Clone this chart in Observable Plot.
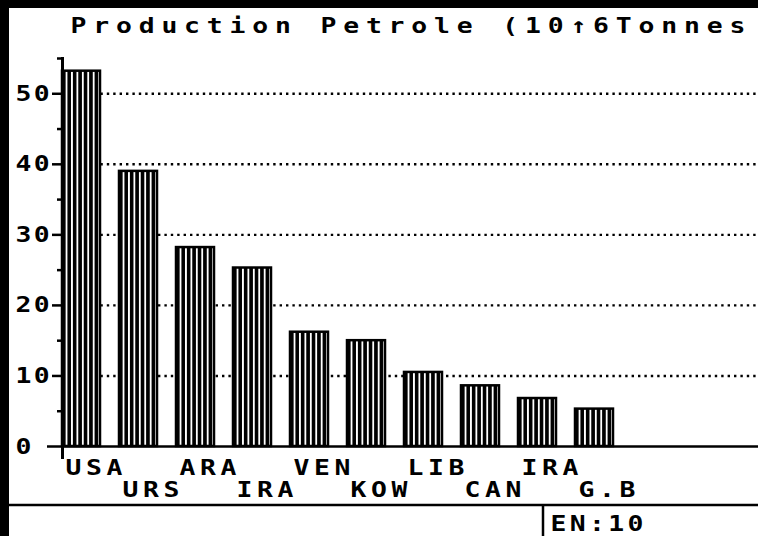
<!DOCTYPE html>
<html><head><meta charset="utf-8">
<script src="https://cdn.jsdelivr.net/npm/d3@7"></script>
<script src="https://cdn.jsdelivr.net/npm/@observablehq/plot@0.6"></script>
<style>
html,body{margin:0;padding:0;background:#fff;}
#chart svg{display:block;}
#chart svg text{letter-spacing:3.9px;}
</style></head><body><div id="chart"></div>
<script>
const countries = ["USA","URS","ARA","IRA","VEN","KOW","LIB","CAN","IRA","G.B"];
const production = [53.2, 39.0, 28.2, 25.3, 16.2, 15.0, 10.5, 8.6, 6.8, 5.3];
const majorTicks = [0, 10, 20, 30, 40, 50];
const minorTicks = [5, 15, 25, 35, 45, 55];
const titleText = "Production Petrole (10↑6Tonnes";
const statusText = "EN:10";

const data = countries.map((c, i) => ({i, code: c, value: production[i], row: i % 2}));
const FONT = "'DejaVu Sans Mono', monospace";

const plot = Plot.plot({
  width: 758, height: 536,
  marginLeft: 62, marginRight: 0, marginTop: 58, marginBottom: 90,
  style: {background: "white", fontFamily: FONT, color: "black", overflow: "visible"},
  x: {type: "band", domain: d3.range(countries.length), range: [62, 621],
      paddingInner: 0.335, paddingOuter: 0, align: 0, axis: null},
  y: {domain: [0, 55], axis: null},
  marks: [
    Plot.ruleY(majorTicks.slice(1), {stroke: "black", strokeWidth: 2.4, strokeDasharray: "2.4,4"}),
    Plot.barY(data, {x: "i", y: "value", fill: "url(#stripes)", stroke: "black", strokeWidth: 2.5}),
    Plot.frame({anchor: "left", stroke: "black", strokeWidth: 3, insetBottom: -11}),
    Plot.ruleY([0], {stroke: "black", strokeWidth: 2.5, insetLeft: -15}),
    Plot.axisY({ticks: majorTicks.slice(1), tickSize: 10, tickFormat: () => "", strokeWidth: 2.5, label: null}),
    Plot.axisY({ticks: minorTicks, tickSize: 5, tickFormat: () => "", strokeWidth: 2.5, label: null}),
    Plot.text(majorTicks, {y: d => d, text: d => String(d), frameAnchor: "left", textAnchor: "start",
      dx: -47, fontSize: 22, fontWeight: "bold", fill: "black"}),
    Plot.text(data.filter(d => d.row === 0), {x: "i", y: 0, text: "code", textAnchor: "start",
      dx: -16, dy: 21, fontSize: 22, fontWeight: "bold", fill: "black"}),
    Plot.text(data.filter(d => d.row === 1), {x: "i", y: 0, text: "code", textAnchor: "start",
      dx: -16, dy: 43, fontSize: 22, fontWeight: "bold", fill: "black"}),
    Plot.text([titleText], {frameAnchor: "top-left", lineAnchor: "middle", textAnchor: "start", dx: 8, dy: -33,
      fontSize: 22, fontWeight: "bold", fill: "black"}),
    Plot.text([statusText], {frameAnchor: "bottom-left", lineAnchor: "middle", textAnchor: "start", dx: 488, dy: 77,
      fontSize: 22, fontWeight: "bold", fill: "black"})
  ]
});

const svg = d3.select(plot);
svg.selectAll("text").filter(function() { return this.textContent === titleText; })
  .style("letter-spacing", "5.7px");
svg.selectAll("text").filter(function() { return majorTicks.map(String).includes(this.textContent); })
  .style("letter-spacing", "2px");
svg.selectAll("text").filter(function() { return this.textContent === statusText; })
  .style("letter-spacing", "2.8px");
// widen glyphs like the blocky screen font (scale about each text's start point)
svg.selectAll("text").each(function() {
  const t = this.getAttribute("transform") || "";
  const x = +this.getAttribute("x") || 0;
  this.setAttribute("transform", `${t} translate(${x},0) scale(1.2,1) translate(${-x},0)`);
});

const defs = svg.insert("defs", ":first-child");
const pat = defs.append("pattern").attr("id", "stripes")
  .attr("patternUnits", "objectBoundingBox").attr("width", 1 / 7).attr("height", 1);
pat.append("rect").attr("x", 0).attr("y", 0).attr("width", 20).attr("height", 2000).attr("fill", "white");
pat.append("rect").attr("x", 0).attr("y", 0).attr("width", 3.6).attr("height", 2000).attr("fill", "black");

// screen frame decorations
const deco = svg.append("g");
deco.append("rect").attr("x", 0).attr("y", 0).attr("width", 9).attr("height", 536).attr("fill", "black");
deco.append("rect").attr("x", 0).attr("y", 0).attr("width", 758).attr("height", 8).attr("fill", "black");
deco.append("line").attr("x1", 9).attr("x2", 758).attr("y1", 505).attr("y2", 505)
  .attr("stroke", "black").attr("stroke-width", 2.5);
deco.append("line").attr("x1", 543).attr("x2", 543).attr("y1", 505).attr("y2", 536)
  .attr("stroke", "black").attr("stroke-width", 2.5);

document.getElementById("chart").appendChild(plot);
</script></body></html>
